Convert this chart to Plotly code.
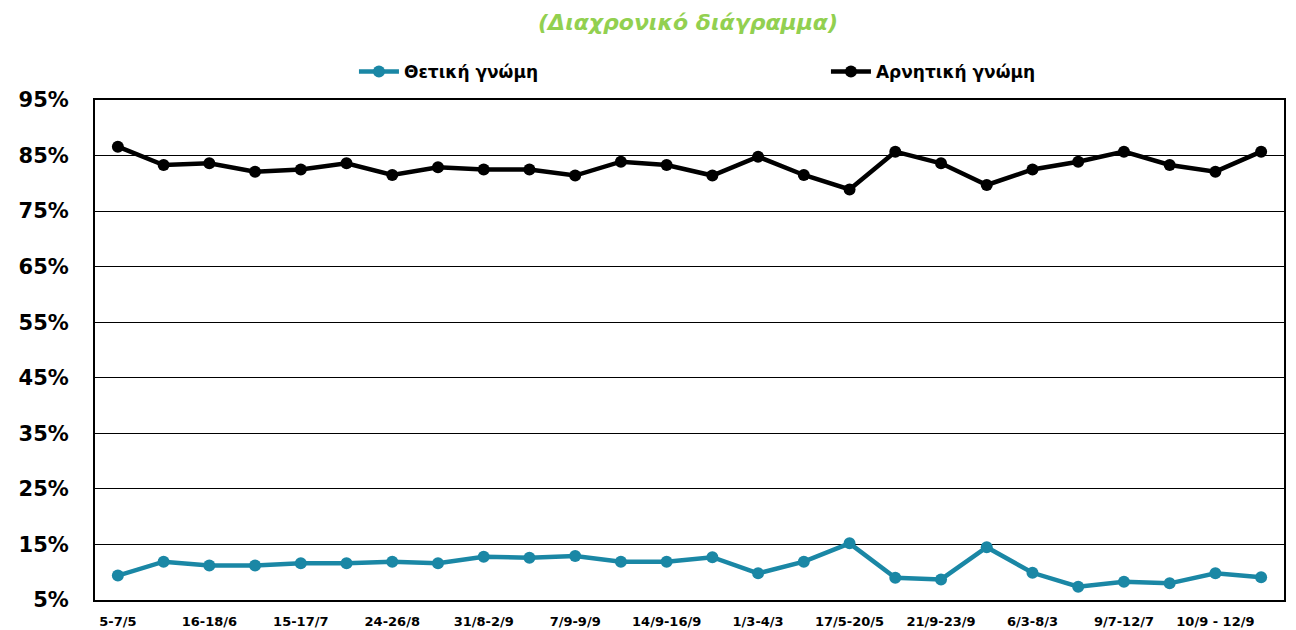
import plotly.graph_objects as go

# 26 survey waves; only every other wave is labelled on the axis
wave_index = list(range(26))
tick_positions = [0, 2, 4, 6, 8, 10, 12, 14, 16, 18, 20, 22, 24]
tick_labels = ["5-7/5", "16-18/6", "15-17/7", "24-26/8", "31/8-2/9", "7/9-9/9",
               "14/9-16/9", "1/3-4/3", "17/5-20/5", "21/9-23/9", "6/3-8/3",
               "9/7-12/7", "10/9 - 12/9"]

positive = [9.4, 11.9, 11.2, 11.2, 11.6, 11.6, 11.9, 11.6, 12.8, 12.6, 12.9, 11.9, 11.9,
            12.7, 9.8, 11.9, 15.2, 9.0, 8.7, 14.5, 9.9, 7.4, 8.3, 8.0, 9.8, 9.1]
negative = [86.6, 83.3, 83.6, 82.1, 82.5, 83.6, 81.5, 82.9, 82.5, 82.5, 81.4, 83.9, 83.3,
            81.4, 84.8, 81.5, 78.9, 85.7, 83.6, 79.7, 82.5, 83.9, 85.7, 83.3, 82.1, 85.7]

y_ticks = [5, 15, 25, 35, 45, 55, 65, 75, 85, 95]

FONT = "DejaVu Sans"
BLUE = "#1A87A5"

fig = go.Figure()
fig.add_trace(go.Scatter(
    x=wave_index, y=positive, name="<b>Θετική γνώμη</b>", mode="lines+markers",
    line=dict(color=BLUE, width=4.5), marker=dict(color=BLUE, size=12)))
fig.add_trace(go.Scatter(
    x=wave_index, y=negative, name="<b>Αρνητική γνώμη</b>", mode="lines+markers",
    line=dict(color="black", width=4.5), marker=dict(color="black", size=12)))

fig.update_layout(
    width=1288, height=622,
    paper_bgcolor="white", plot_bgcolor="white",
    margin=dict(l=87, r=12, t=92, b=30, autoexpand=False),
    font=dict(family=FONT, color="black"),
    title=dict(text="<b><i>(Διαχρονικό διάγραμμα)</i></b>", x=0.528, xanchor="center",
               y=0.9775, yanchor="middle", xref="container", yref="container",
               font=dict(size=22, color="#92D050", family=FONT)),
    showlegend=True,
    legend=dict(orientation="h", xref="container", yref="container",
                x=0.2686, xanchor="left", y=0.897, yanchor="middle",
                entrywidth=417, entrywidthmode="pixels",
                font=dict(size=17, family=FONT), itemwidth=40,
                bgcolor="rgba(0,0,0,0)"),
    xaxis=dict(range=[-0.5, 25.5], tickmode="array", tickvals=tick_positions,
               ticktext=[f"<b>{t}</b>" for t in tick_labels],
               tickfont=dict(size=13, family=FONT), showgrid=False,
               showline=True, linecolor="black", linewidth=2, mirror=True,
               ticks="", zeroline=False, ticklabelstandoff=8),
    yaxis=dict(range=[5, 95], tickmode="array", tickvals=y_ticks,
               ticktext=[f"<b>{v}%</b>" for v in y_ticks],
               tickfont=dict(size=21, family=FONT), showgrid=True,
               gridcolor="black", gridwidth=1,
               showline=True, linecolor="black", linewidth=2, mirror=True,
               ticks="", ticklen=0, zeroline=False, ticklabelstandoff=20),
)

fig.write_html("out.html")
